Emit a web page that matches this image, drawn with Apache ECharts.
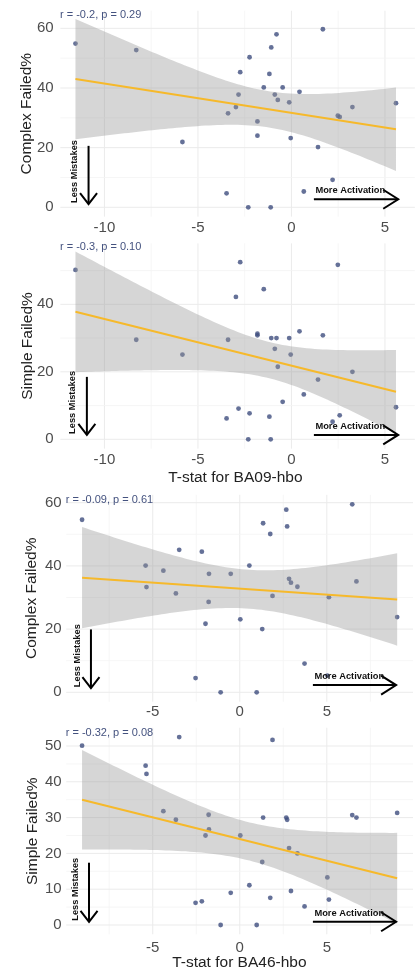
<!DOCTYPE html>
<html><head><meta charset="utf-8">
<script src="https://cdn.jsdelivr.net/npm/echarts@6/dist/echarts.min.js"></script>
<style>html,body{margin:0;padding:0;background:#fff}#c{width:416px;height:973px}</style>
</head><body><div id="c"></div>
<script>
// ---------- data ----------
const ba09T = [-11.55, -8.30, -5.83, -3.47, -3.39, -2.97, -2.83, -2.74, -2.31, -2.24, -1.82, -1.82, -1.48, -1.18, -1.11, -1.08, -0.89, -0.80, -0.73, -0.47, -0.12, -0.04, 0.43, 0.66, 1.42, 1.68, 2.20, 2.48, 2.58, 3.26, 5.59];
const ba09Complex = [54.9, 52.7, 21.9, 4.7, 31.5, 33.6, 37.8, 45.3, 0, 50.3, 28.8, 24.0, 40.2, 44.7, 0, 53.6, 37.8, 58.0, 36.0, 40.2, 35.2, 23.2, 38.7, 5.3, 20.2, 59.7, 9.2, 30.7, 30.3, 33.6, 34.9];
const ba09Simple = [50.2, 29.5, 25.1, 6.2, 29.5, 42.2, 9.1, 52.5, 0, 7.7, 30.8, 31.3, 44.5, 6.7, 0, 30.0, 26.8, 30.0, 21.5, 11.1, 30.0, 25.1, 32.0, 13.3, 17.7, 30.8, 5.2, 51.7, 7.1, 20.0, 9.5];
const ba46T = [-9.06, -5.41, -5.36, -4.39, -3.67, -3.48, -2.54, -2.18, -1.97, -1.79, -1.77, -1.10, -0.52, 0.03, 0.55, 0.97, 1.29, 1.34, 1.75, 1.88, 2.67, 2.72, 2.83, 2.94, 3.31, 3.72, 5.03, 5.12, 6.46, 6.70, 9.04];
const ba46Complex = [54.6, 40.1, 33.3, 38.5, 31.3, 45.1, 4.5, 44.5, 21.7, 28.6, 37.5, 0, 37.5, 23.1, 40.1, 0, 20.0, 53.5, 50.1, 30.5, 57.8, 52.5, 35.9, 34.7, 33.4, 9.1, 5.3, 30.1, 59.5, 35.1, 23.8];
const ba46Simple = [50.1, 44.5, 42.2, 31.8, 29.4, 52.5, 6.2, 6.6, 25.0, 30.8, 26.7, 0, 9.0, 25.0, 11.1, 0, 17.6, 30.0, 7.6, 51.7, 30.0, 29.4, 21.5, 9.5, 20.0, 5.2, 13.3, 7.1, 30.7, 30.0, 31.3];

const corrLabels = ['r = -0.2, p = 0.29', 'r = -0.3, p = 0.10', 'r = -0.09, p = 0.61', 'r = -0.32, p = 0.08'];
const yTitles = ['Complex Failed%', 'Simple Failed%', 'Complex Failed%', 'Simple Failed%'];
const xTitles = ['', 'T-stat for BA09-hbo', '', 'T-stat for BA46-hbo'];
const lessText = 'Less Mistakes';
const moreText = 'More Activation';

// tick labels (major) and minor grid positions
const ba09Ticks = [-10, -5, 0, 5];
const ba09Minor = [-7.5, -2.5, 2.5];
const ba46Ticks = [-5, 0, 5];
const ba46Minor = [-7.5, -2.5, 2.5, 7.5];
const complexTicks = [0, 20, 40, 60];
const complexMinor = [10, 30, 50];
const simple09Ticks = [0, 20, 40];
const simple09Minor = [10, 30, 50];
const simple46Ticks = [0, 10, 20, 30, 40, 50];
const simple46Minor = [5, 15, 25, 35, 45];

// ---------- layout / styling ----------
const FONT = 'Liberation Sans, Arial, sans-serif';
const POINT = '#3f4d7e';
const LINE = '#f6b92b';
const RIBBON = 'rgba(153,153,153,0.4)';
const GRID_MAJOR = '#ebebeb';
const GRID_MINOR = '#f4f4f4';

const panels = [
  { xs: ba09T, ys: ba09Complex, xt: ba09Ticks, xm: ba09Minor, yt: complexTicks, ym: complexMinor,
    grid: { left: 57.7, top: 20.1, width: 364.8, height: 187.2 }, xMin: -12.5, xMax: 6.5, xInt: 2.5, yMin: 0, yMax: 62.76, yInt: 10,
    panelX: [-12.36, 6.6], panelY: [-3.14, 65.9], xLabelMargin: 13, xNameGap: 30.5, yNameGap: 23, yNamePad: [0, 0, 0, 0], corrPos: [60, 14.7],
    ann: { downX: -10.85, downTop: 20.6, downTip: 1.1, rightY: 2.7, rightFrom: 1.2, rightTo: 5.71 } },
  { xs: ba09T, ys: ba09Simple, xt: ba09Ticks, xm: ba09Minor, yt: simple09Ticks, ym: simple09Minor,
    grid: { left: 57.7, top: 252.7, width: 364.8, height: 186.6 }, xMin: -12.5, xMax: 6.5, xInt: 2.5, yMin: 0, yMax: 55.3, yInt: 10,
    panelX: [-12.36, 6.6], panelY: [-2.77, 58.06], xLabelMargin: 13, xNameGap: 30.5, yNameGap: 21.5, yNamePad: [0, 0, 0, 0], corrPos: [60, 246.7],
    ann: { downX: -10.94, downTop: 18.5, downTip: 1.3, rightY: 1.3, rightFrom: 1.2, rightTo: 5.71 } },
  { xs: ba46T, ys: ba46Complex, xt: ba46Ticks, xm: ba46Minor, yt: complexTicks, ym: complexMinor,
    grid: { left: 65.7, top: 494.8, width: 361.1, height: 197.5 }, xMin: -10, xMax: 9.95, xInt: 2.5, yMin: 0, yMax: 62.5, yInt: 10,
    panelX: [-9.97, 9.95], panelY: [-2.98, 62.5], xLabelMargin: 12.5, xNameGap: 30.5, yNameGap: 26, yNamePad: [0, 9.4, 0, 0], corrPos: [65.7, 500],
    ann: { downX: -8.55, downTop: 19.9, downTip: 1.3, rightY: 2.3, rightFrom: 4.2, rightTo: 8.98 } },
  { xs: ba46T, ys: ba46Simple, xt: ba46Ticks, xm: ba46Minor, yt: simple46Ticks, ym: simple46Minor,
    grid: { left: 65.7, top: 737.4, width: 361.1, height: 187.6 }, xMin: -10, xMax: 9.95, xInt: 2.5, yMin: 0, yMax: 52.4, yInt: 10,
    panelX: [-9.97, 9.95], panelY: [-2.6, 55.1], xLabelMargin: 15, xNameGap: 30, yNameGap: 24.5, yNamePad: [0, 0, 0, 0], corrPos: [65.7, 732.7],
    ann: { downX: -8.66, downTop: 17.4, downTip: 0.9, rightY: 0.9, rightFrom: 4.2, rightTo: 8.98 } }
];

// linear model fit with 95% confidence band (as geom_smooth(method = "lm"))
function lmFit(xs, ys) {
  const n = xs.length;
  const mx = xs.reduce((a, b) => a + b, 0) / n;
  const my = ys.reduce((a, b) => a + b, 0) / n;
  let sxx = 0, sxy = 0;
  for (let i = 0; i < n; i++) { sxx += (xs[i] - mx) ** 2; sxy += (xs[i] - mx) * (ys[i] - my); }
  const b = sxy / sxx, a = my - b * mx;
  let sse = 0;
  for (let i = 0; i < n; i++) sse += (ys[i] - a - b * xs[i]) ** 2;
  const s = Math.sqrt(sse / (n - 2));
  const tq = 2.045; // t(0.975, df = 29)
  const x0 = Math.min(...xs), x1 = Math.max(...xs);
  const band = [];
  for (let i = 0; i < 80; i++) {
    const x = x0 + (x1 - x0) * i / 79;
    const yh = a + b * x;
    const se = s * Math.sqrt(1 / n + (x - mx) ** 2 / sxx);
    band.push([x, yh - tq * se, yh + tq * se]);
  }
  return { line: [[x0, a + b * x0], [x1, a + b * x1]], band };
}

const fmt = list => v => {
  const r = Math.round(v * 100) / 100;
  return list.indexOf(r) >= 0 ? String(r) : '';
};

const grids = [], xAxes = [], yAxes = [], series = [], graphics = [];
panels.forEach((p, i) => {
  grids.push(Object.assign({ containLabel: false }, p.grid));
  xAxes.push({
    gridIndex: i, type: 'value', min: p.xMin, max: p.xMax, interval: p.xInt,
    axisLine: { show: false, onZero: false }, axisTick: { show: false }, splitLine: { show: false },
    axisLabel: { margin: p.xLabelMargin, fontSize: 15, color: '#4d4d4d', fontFamily: FONT, formatter: fmt(p.xt) },
    name: xTitles[i], nameLocation: 'middle', nameGap: p.xNameGap, nameMoveOverlap: false,
    nameTextStyle: { fontSize: 15.5, color: '#222', fontFamily: FONT }
  });
  yAxes.push({
    gridIndex: i, type: 'value', min: p.yMin, max: p.yMax, interval: p.yInt,
    axisLine: { show: false, onZero: false }, axisTick: { show: false }, splitLine: { show: false },
    axisLabel: { margin: 4, fontSize: 15, color: '#4d4d4d', fontFamily: FONT, formatter: fmt(p.yt) },
    name: yTitles[i], nameLocation: 'middle', nameGap: p.yNameGap, nameMoveOverlap: false,
    nameTextStyle: { fontSize: 15.5, color: '#222', fontFamily: FONT, padding: p.yNamePad }
  });

  // grid lines: [value, kind] kind 0 = x major, 1 = x minor, 2 = y major, 3 = y minor
  const gl = [];
  p.xt.forEach(v => gl.push([v, 0]));
  p.xm.forEach(v => gl.push([v, 1]));
  p.yt.forEach(v => gl.push([v, 2]));
  p.ym.forEach(v => gl.push([v, 3]));
  series.push({
    type: 'custom', xAxisIndex: i, yAxisIndex: i, silent: true, z: 0, clip: false, data: gl,
    encode: { x: -1, y: -1 },
    renderItem: (params, api) => {
      const v = api.value(0), k = api.value(1);
      let a, b;
      if (k < 2) { a = api.coord([v, p.panelY[0]]); b = api.coord([v, p.panelY[1]]); }
      else { a = api.coord([p.panelX[0], v]); b = api.coord([p.panelX[1], v]); }
      const major = (k === 0 || k === 2);
      return { type: 'line', shape: { x1: a[0], y1: a[1], x2: b[0], y2: b[1] },
        style: { stroke: major ? GRID_MAJOR : GRID_MINOR, lineWidth: major ? 1 : 0.8 } };
    }
  });

  // points
  series.push({
    type: 'scatter', xAxisIndex: i, yAxisIndex: i, silent: true, z: 2, clip: false,
    symbolSize: 4.8, itemStyle: { color: POINT },
    data: p.xs.map((x, j) => [x, p.ys[j]])
  });

  const f = lmFit(p.xs, p.ys);
  // confidence ribbon
  series.push({
    type: 'custom', xAxisIndex: i, yAxisIndex: i, silent: true, z: 3, clip: false,
    data: f.band,
    encode: { x: 0, y: [1, 2] },
    renderItem: (params, api) => {
      if (params.dataIndex !== 0) return;
      const up = f.band.map(d => api.coord([d[0], d[2]]));
      const lo = f.band.map(d => api.coord([d[0], d[1]])).reverse();
      return { type: 'polygon', shape: { points: up.concat(lo) }, style: { fill: RIBBON } };
    }
  });
  // fitted line
  series.push({
    type: 'line', xAxisIndex: i, yAxisIndex: i, silent: true, z: 4, showSymbol: false, clip: false,
    lineStyle: { color: LINE, width: 2 }, data: f.line
  });
  // annotations (arrows + text)
  series.push({
    type: 'custom', xAxisIndex: i, yAxisIndex: i, silent: true, z: 5, clip: false,
    data: [[p.ann.downX, p.ann.downTip]],
    renderItem: (params, api) => {
      const a = p.ann;
      const top = api.coord([a.downX, a.downTop]), tip = api.coord([a.downX, a.downTip]);
      const rs = api.coord([a.rightFrom, a.rightY]), re = api.coord([a.rightTo, a.rightY]);
      const st = { stroke: '#000', lineWidth: 2, fill: null, lineJoin: 'miter' };
      const tf = 'bold 9.3px ' + FONT;
      return { type: 'group', children: [
        { type: 'line', shape: { x1: top[0], y1: top[1], x2: tip[0], y2: tip[1] }, style: st },
        { type: 'polyline', shape: { points: [[tip[0] - 8.5, tip[1] - 11], [tip[0], tip[1]], [tip[0] + 8.5, tip[1] - 11]] }, style: st },
        { type: 'line', shape: { x1: rs[0], y1: rs[1], x2: re[0], y2: re[1] }, style: st },
        { type: 'polyline', shape: { points: [[re[0] - 15, re[1] - 9.5], [re[0], re[1]], [re[0] - 15, re[1] + 9.5]] }, style: st },
        { type: 'text', x: tip[0] - 14, y: tip[1] - 1, rotation: Math.PI / 2,
          style: { text: lessText, font: tf, fill: '#111', align: 'left', verticalAlign: 'middle' } },
        { type: 'text', x: rs[0] + 1.5, y: rs[1] - 8.5,
          style: { text: moreText, font: tf, fill: '#111', align: 'left', verticalAlign: 'middle' } }
      ] };
    }
  });

  graphics.push({ type: 'text', x: p.corrPos[0], y: p.corrPos[1], silent: true, z: 10,
    style: { text: corrLabels[i], font: '11px ' + FONT, fill: '#44527f', align: 'left', verticalAlign: 'middle' } });
});

const chart = echarts.init(document.getElementById('c'), null, { renderer: 'canvas' });
chart.setOption({
  animation: false,
  backgroundColor: '#fff',
  textStyle: { fontFamily: FONT },
  grid: grids, xAxis: xAxes, yAxis: yAxes, series: series, graphic: graphics
});
</script>
</body></html>
